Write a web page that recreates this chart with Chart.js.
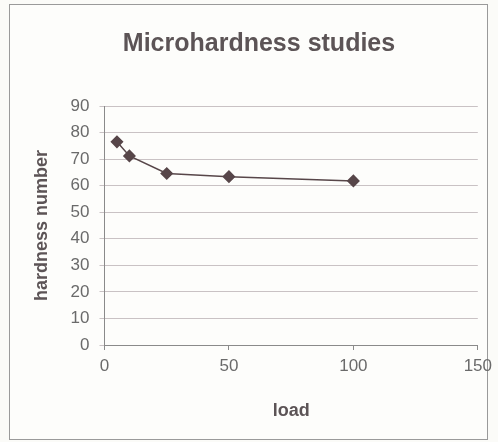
<!DOCTYPE html>
<html>
<head>
<meta charset="utf-8">
<script src="https://cdn.jsdelivr.net/npm/chart.js@4"></script>
<style>
  html, body { margin: 0; padding: 0; background: #fbfbf8; }
  #frame {
    position: absolute; left: 9px; top: 4px; width: 479px; height: 436px;
    border: 1px solid #9a9a9a; box-sizing: border-box; background: #fdfdfb;
  }
  #chart { position: absolute; left: 0; top: 0; display: block; }
</style>
</head>
<body>
<div id="frame"></div>
<canvas id="chart" width="498" height="442"></canvas>
<script>
const loads = [5, 10, 25, 50, 100];
const hardness = [76.5, 71.2, 64.6, 63.4, 61.8];
const xTicks = [0, 50, 100, 150];
const yTicks = [0, 10, 20, 30, 40, 50, 60, 70, 80, 90];

const ctx = document.getElementById('chart').getContext('2d');
new Chart(ctx, {
    type: 'scatter',
    data: {
        datasets: [{
            label: 'hardness',
            data: loads.map((x, i) => ({ x: x, y: hardness[i] })),
            showLine: true,
            borderColor: '#574649',
            backgroundColor: '#574649',
            borderWidth: 1.5,
            pointStyle: 'rectRot',
            pointRadius: 5.5,
            pointHoverRadius: 5.5
        }]
    },
    options: {
        responsive: false,
        animation: false,
        layout: { padding: { left: 27, right: 7, top: 19, bottom: 16 } },
        plugins: {
            legend: { display: false },
            tooltip: { enabled: false },
            title: {
                display: true,
                text: 'Microhardness studies',
                color: '#5c5456',
                font: { family: 'Liberation Sans', size: 25, weight: 'bold' },
                padding: { top: 10, bottom: 47 }
            }
        },
        scales: {
            x: {
                type: 'linear',
                min: 0, max: 150,
                afterBuildTicks: axis => { axis.ticks = xTicks.map(v => ({ value: v })); },
                grid: { drawOnChartArea: false, drawTicks: true, tickLength: 5, color: '#8a8a8a' },
                border: { color: '#8a8a8a' },
                ticks: { color: '#6a6a6a', font: { family: 'Liberation Sans', size: 17 }, padding: 6, maxRotation: 0 },
                title: {
                    display: true, text: 'load', color: '#5c5456',
                    font: { family: 'Liberation Sans', size: 18, weight: 'bold' },
                    padding: { top: 18 }
                }
            },
            y: {
                min: 0, max: 90,
                afterBuildTicks: axis => { axis.ticks = yTicks.map(v => ({ value: v })); },
                grid: { color: '#c9c2c4', tickLength: 5, drawTicks: true },
                border: { color: '#8a8a8a' },
                ticks: { color: '#6a6a6a', font: { family: 'Liberation Sans', size: 17 }, padding: 10 },
                title: {
                    display: true, text: 'hardness number', color: '#5c5456',
                    font: { family: 'Liberation Sans', size: 18, weight: 'bold' },
                    padding: { bottom: 8 }
                }
            }
        }
    }
});
</script>
</body>
</html>
